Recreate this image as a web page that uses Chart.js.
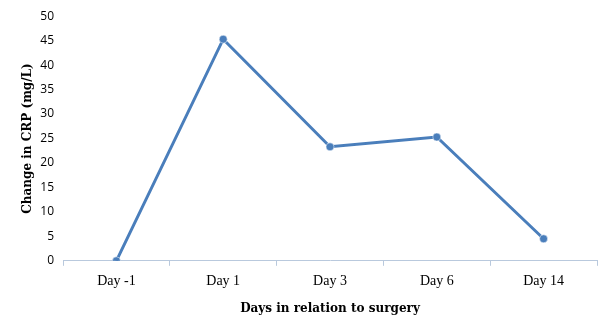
<!DOCTYPE html>
<html>
<head>
<meta charset="utf-8">
<script src="https://cdn.jsdelivr.net/npm/chart.js@4"></script>
<style>
  html, body { margin: 0; padding: 0; background: #fff; }
  #wrap { width: 610px; height: 322px; }
</style>
</head>
<body>
<div id="wrap"><canvas id="crp"></canvas></div>
<script>
// data
const days = ['Day -1', 'Day 1', 'Day 3', 'Day 6', 'Day 14'];
const crpChange = [0, 45.3, 23.3, 25.3, 4.5];
const yTicks = [0, 5, 10, 15, 20, 25, 30, 35, 40, 45, 50];

const lineBlue = '#4a7ebb';

new Chart(document.getElementById('crp'), {
  type: 'line',
  data: {
    labels: days,
    datasets: [{
      data: crpChange,
      borderColor: lineBlue,
      backgroundColor: lineBlue,
      borderWidth: 3,
      pointRadius: 4,
      pointBorderColor: '#ffffff',
      pointBorderWidth: 0.5,
      tension: 0
    }]
  },
  options: {
    responsive: true,
    maintainAspectRatio: false,
    animation: false,
    layout: { padding: { top: -4, right: 13, bottom: 6, left: 21 } },
    plugins: { legend: { display: false }, tooltip: { enabled: false } },
    scales: {
      x: {
        offset: true,
        grid: { offset: true, drawOnChartArea: false, color: '#b9c9dd', tickLength: 5 },
        border: { color: '#b9c9dd', width: 1 },
        ticks: { color: '#000', font: { family: 'Liberation Serif', size: 14 }, padding: 7 },
        title: {
          display: true,
          text: 'Days in relation to surgery',
          color: '#000',
          font: { family: 'DejaVu Serif', size: 12, weight: 'bold' },
          padding: { top: 5, bottom: 0 }
        }
      },
      y: {
        min: 0,
        max: 50,
        afterBuildTicks: axis => { axis.ticks = yTicks.map(v => ({ value: v })); },
        afterFit: axis => { axis.width = 42; },
        grid: { display: false, drawTicks: false, tickLength: 0 },
        border: { display: false },
        ticks: { color: '#000', font: { family: 'Open Sans', size: 12 }, padding: 9 },
        title: {
          display: true,
          text: 'Change in CRP (mg/L)',
          color: '#000',
          font: { family: 'DejaVu Serif', size: 12, weight: 'bold' },
          padding: { top: 0, bottom: 0 }
        }
      }
    }
  }
});
</script>
</body>
</html>
